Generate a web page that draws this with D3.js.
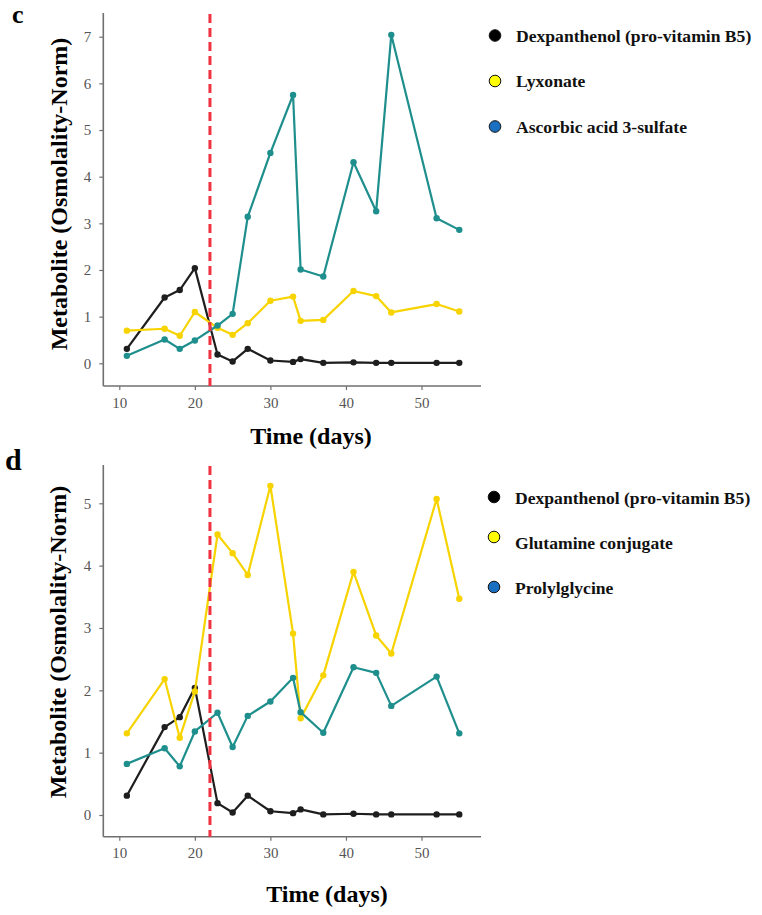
<!DOCTYPE html>
<html><head><meta charset="utf-8">
<script src="https://cdn.jsdelivr.net/npm/d3@7/dist/d3.min.js"></script>
<style>body{margin:0;background:#fff}svg{display:block}</style>
</head><body>
<svg id="chart" width="762" height="915"></svg>
<script>
const days = [11,16,18,20,23,25,27,30,33,34,37,41,44,46,52,55];
const xTicks = [10,20,30,40,50];
const dexpanthenol = [0.31,1.41,1.57,2.04,0.19,0.04,0.31,0.06,0.03,0.09,0.01,0.02,0.01,0.01,0.01,0.01];
const lyxonate = [0.70,0.74,0.59,1.10,0.76,0.61,0.86,1.34,1.43,0.91,0.93,1.55,1.44,1.09,1.27,1.11];
const ascorbicSulfate = [0.16,0.51,0.31,0.49,0.81,1.06,3.14,4.51,5.75,2.01,1.86,4.31,3.26,7.04,3.11,2.86];
const glutamineConj = [1.31,2.18,1.24,1.98,4.50,4.20,3.85,5.28,2.91,1.55,2.24,3.90,2.88,2.59,5.07,3.47];
const prolylglycine = [0.82,1.07,0.78,1.34,1.64,1.09,1.59,1.82,2.20,1.65,1.32,2.37,2.28,1.75,2.22,1.31];
const yTicksC = [0,1,2,3,4,5,6,7];
const yTicksD = [0,1,2,3,4,5];
const namesC = ["Dexpanthenol (pro-vitamin B5)","Lyxonate","Ascorbic acid 3-sulfate"];
const namesD = ["Dexpanthenol (pro-vitamin B5)","Glutamine conjugate","Prolylglycine"];
const interventionDay = 22;

const lineColors = ["#1e1e1e","#f7d300","#1e8f8c"];
const legendFill = ["#000000","#ffff00","#1a6fc0"];
const svg = d3.select("#chart");
const serif = "'Liberation Serif','DejaVu Serif',serif";

function panel(cfg){
  const g = svg.append("g");
  const x = d3.scaleLinear().domain([10,50]).range([119.3,421.5]);
  const y = d3.scaleLinear().domain([0,cfg.yMaxTick]).range([cfg.y0,cfg.yTop]);
  const xL = 103.3, xR = 481;
  const xa = g.append("g").attr("transform",`translate(0,${cfg.bottom})`)
    .call(d3.axisBottom(x).tickValues(xTicks).tickSize(4).tickPadding(7).tickFormat(d3.format("d")));
  xa.select(".domain").remove();
  g.append("line").attr("x1",xL).attr("x2",xR).attr("y1",cfg.bottom).attr("y2",cfg.bottom)
    .attr("stroke","#707070").attr("stroke-width",1.6);
  const ya = g.append("g").attr("transform",`translate(${xL},0)`)
    .call(d3.axisLeft(y).tickValues(cfg.yTicks).tickSize(4).tickPadding(8).tickFormat(d3.format("d")));
  ya.select(".domain").remove();
  g.append("line").attr("x1",xL).attr("x2",xL).attr("y1",cfg.top).attr("y2",cfg.bottom)
    .attr("stroke","#707070").attr("stroke-width",1.6);
  g.selectAll(".tick line").attr("stroke","#707070").attr("stroke-width",1.2);
  g.selectAll(".tick text").attr("fill","#555").style("font-family",serif).style("font-size","15px");

  cfg.series.forEach((vals,i)=>{
    const pts = days.map((d,j)=>[d,vals[j]]);
    g.append("path").datum(pts)
      .attr("d",d3.line().x(d=>x(d[0])).y(d=>y(d[1])))
      .attr("fill","none").attr("stroke",lineColors[i]).attr("stroke-width",2.2).attr("stroke-linejoin","round");
    g.selectAll(null).data(pts).enter().append("circle")
      .attr("cx",d=>x(d[0])).attr("cy",d=>y(d[1])).attr("r",3.2).attr("fill",lineColors[i]);
  });
  g.append("line").attr("x1",x(interventionDay)).attr("x2",x(interventionDay))
    .attr("y1",cfg.top+1).attr("y2",cfg.bottom)
    .attr("stroke","#f0313f").attr("stroke-width",3).attr("stroke-dasharray","9,5");

  g.append("text").attr("x",cfg.letterX).attr("y",cfg.letterY).text(cfg.letter)
    .style("font-family",serif).style("font-weight","bold").style("font-size",cfg.letterSize+"px");
  g.append("text").attr("transform",`translate(${cfg.yTitleX},${cfg.yTitleC}) rotate(-90)`).attr("text-anchor","middle")
    .text("Metabolite (Osmolality-Norm)")
    .style("font-family",serif).style("font-weight","bold").style("font-size","24px");
  g.append("text").attr("x",cfg.xTitleX).attr("y",cfg.xTitleY).attr("text-anchor","middle")
    .text("Time (days)")
    .style("font-family",serif).style("font-weight","bold").style("font-size","24px");

  cfg.names.forEach((n,i)=>{
    const ty = cfg.legY + i*cfg.legStep;
    g.append("circle").attr("cx",cfg.legX).attr("cy",ty+cfg.dotOff[i]).attr("r",5.8)
      .attr("fill",legendFill[i]).attr("stroke","#111").attr("stroke-width",1);
    g.append("text").attr("x",cfg.legX+21).attr("y",ty).text(n)
      .attr("fill","#111").style("font-family",serif).style("font-weight","bold").style("font-size","17.6px");
  });
}

panel({top:13,bottom:386,y0:363.3,yTop:36.7,yMaxTick:7,yTicks:yTicksC,
  series:[dexpanthenol,lyxonate,ascorbicSulfate],names:namesC,
  letter:"c",letterX:12,letterY:23,letterSize:26,yTitleX:67,yTitleC:194,xTitleX:311,xTitleY:444,
  legX:495,legY:41.5,legStep:45.5,dotOff:[-6,-6,-6]});
panel({top:465,bottom:836.7,y0:815,yTop:503.3,yMaxTick:5,yTicks:yTicksD,
  series:[dexpanthenol,glutamineConj,prolylglycine],names:namesD,
  letter:"d",letterX:5,letterY:470,letterSize:30,yTitleX:66,yTitleC:642,xTitleX:327,xTitleY:902,
  legX:494,legY:504,legStep:45,dotOff:[-7,-12,-7]});
</script>
</body></html>
